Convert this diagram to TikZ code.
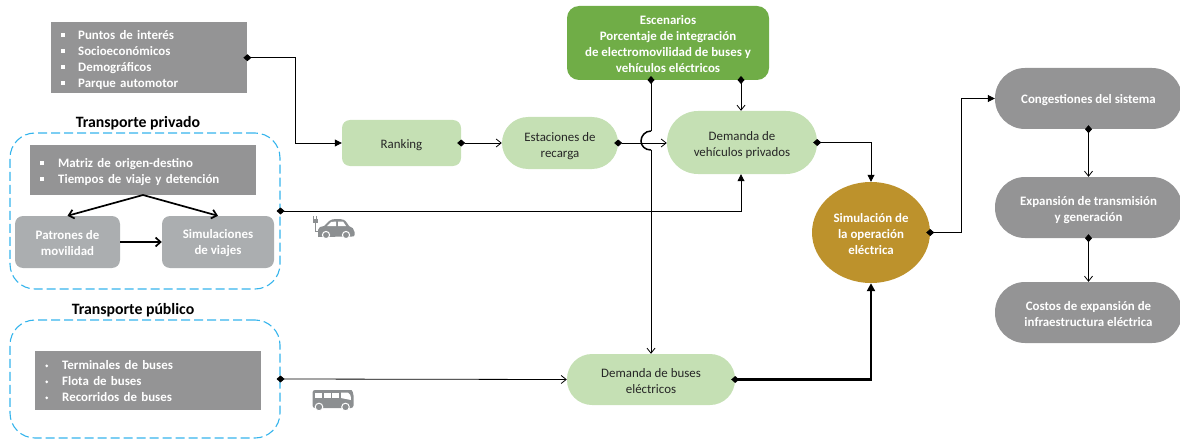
\documentclass[tikz,border=0pt]{standalone}
\usepackage{fontspec}
\setmainfont{Carlito}
\usetikzlibrary{arrows.meta,shapes.geometric}
\definecolor{boxgray}{HTML}{949495}
\definecolor{softgray}{HTML}{ABAEB0}
\definecolor{lightgreen}{HTML}{C5E0B4}
\definecolor{midgreen}{HTML}{70AD47}
\definecolor{ochre}{HTML}{BD922C}
\definecolor{dashblue}{HTML}{35B4EC}
\definecolor{inktext}{HTML}{262626}
\definecolor{iconfill}{HTML}{8C8F91}
\newcommand\bodyfont{\fontsize{12.9}{16}\selectfont}
\newcommand\squarebul[2]{\makebox[#1][l]{\hspace{#2}\raisebox{2.5pt}{\rule{3.8pt}{3.8pt}}}}
\newcommand\roundbul[2]{\makebox[#1][l]{\hspace{#2}\raisebox{2.8pt}{\tikz[baseline]\fill (0,1pt) circle (1.5pt);}}}
\newcommand\headroom[1]{\rule{0pt}{#1}}
\tikzset{
  x=1pt,y=-1pt,
  txt/.style={font=\bodyfont,align=center},
  graybox/.style={fill=boxgray,text=white,font=\bodyfont\bfseries,align=left,inner sep=0pt,anchor=north west},
  softbox/.style={fill=softgray,text=white,txt,font=\bodyfont\bfseries,rounded corners=8pt,inner sep=0pt},
  greenpill/.style={fill=lightgreen,text=inktext,txt,inner sep=0pt},
  graypill/.style={fill=boxgray,text=white,txt,font=\bodyfont\bfseries,inner sep=0pt,rounded corners=30pt,minimum width=187pt},
  dashframe/.style={draw=dashblue,line width=1.1pt,dash pattern=on 9pt off 4pt,rounded corners=25pt,minimum width=270pt,inner sep=0pt},
  headline/.style={font=\fontsize{15.8}{18}\selectfont\bfseries,text=black,inner sep=0pt},
  conn/.style={draw=black,line width=0.8pt},
  dfill/.style={{Diamond[length=8pt,width=7pt]}-{Triangle[length=7pt,width=7pt]},shorten <=-4pt,conn},
  dopen/.style={{Diamond[length=8pt,width=7pt]}-{Straight Barb[length=5pt,width=8pt]},shorten <=-4pt,conn},
  sharrow/.style={-{Straight Barb[length=5pt,width=9pt]},draw=black,line width=1.7pt},
  icon/.style={fill=iconfill,draw=none},
}
\begin{document}
\begin{tikzpicture}
\useasboundingbox (0,0) rectangle (1180,441);

% source boxes
\node[graybox,minimum height=71pt,text width=196pt] (top) at (51,22)
 {\headroom{13pt}\squarebul{27pt}{10pt}Puntos de interés\\\squarebul{27pt}{10pt}Socioeconómicos\\\squarebul{27pt}{10pt}Demográficos\\\squarebul{27pt}{10pt}Parque automotor};

\node[headline] (tpriv) at (138,123) {Transporte privado};
\node[dashframe,minimum height=156pt] (priv) at (145,211) {};
\node[graybox,minimum height=50pt,text width=226pt] (matriz) at (30,145)
 {\headroom{13pt}\squarebul{28pt}{10pt}Matriz de origen-destino\\\squarebul{28pt}{10pt}Tiempos de viaje y detención};
\node[softbox,minimum width=105pt,minimum height=52pt] (patrones) at (67.5,242) {\headroom{11pt}Patrones de\\movilidad};
\node[softbox,minimum width=112pt,minimum height=52pt] (simviajes) at (218,242) {\headroom{11pt}Simulaciones\\de viajes};
\coordinate (matrizfoot) at (143,195);

\node[headline] (tpub) at (133,310) {Transporte público};
\node[dashframe,minimum height=118pt] (pub) at (145,379) {};
\node[graybox,minimum height=59pt,text width=226pt] (term) at (35,351)
 {\headroom{10pt}\roundbul{27pt}{10pt}Terminales de buses\\\roundbul{27pt}{10pt}Flota de buses\\\roundbul{27pt}{10pt}Recorridos de buses};

% middle
\node[greenpill,rounded corners=8pt,minimum width=119pt,minimum height=46pt] (rank) at (401.5,143) {\headroom{13pt}Ranking};
\node[greenpill,rounded corners=26pt,minimum width=116pt,minimum height=52pt] (est) at (560,143) {\headroom{15pt}Estaciones de\\recarga};
\node[greenpill,rounded corners=31pt,minimum width=150pt,minimum height=63pt] (dveh) at (742,142.5) {\headroom{15pt}Demanda de\\vehículos privados};
\node[fill=midgreen,text=white,txt,font=\bodyfont\bfseries,rounded corners=12pt,inner sep=0pt,minimum width=202pt,minimum height=74pt] (esc) at (668,43)
 {\headroom{11pt}Escenarios\\Porcentaje de integración\\de electromovilidad de buses y\\vehículos eléctricos};
\node[greenpill,rounded corners=25pt,minimum width=168pt,minimum height=51pt] (dbus) at (651,379.5) {\headroom{13pt}Demanda de buses\\eléctricos};
\node[ellipse,fill=ochre,text=white,txt,font=\bodyfont\bfseries,inner sep=0pt,minimum width=118pt,minimum height=101pt] (sim) at (871,232.5) {\headroom{12pt}Simulación de\\la operación\\eléctrica};

% right column
\node[graypill,minimum height=61pt] (cong) at (1088.5,98.5) {\headroom{13pt}Congestiones del sistema};
\node[graypill,minimum height=61pt] (expn) at (1088.5,207.5) {\headroom{15pt}Expansión de transmisión\\y generación};
\node[graypill,minimum height=61pt] (cost) at (1088.5,312.5) {\headroom{13pt}Costos de expansión de\\infraestructura eléctrica};

% connectors
\draw[dfill] (top.east) -| (295,143) -- (rank.west);
\draw[dopen] (rank.east) -- (est.west);
\draw[dopen] (est.east) -- (dveh.west |- est.east);
\coordinate (escA) at (651,80);
\coordinate (escB) at (741,80);
\draw[conn,{Diamond[length=8pt,width=7pt]}-,shorten <=-4pt] (escA) -- (651,131);
\draw[draw=black,line width=1.5pt] (651,131)
  .. controls (645,131) and (641,136) .. (641,141)
  .. controls (641,146) and (645,150) .. (651,150);
\draw[conn,-{Straight Barb[length=5pt,width=8pt]}] (651,150) -- (dbus.north -| escA);
\draw[dopen] (escB) -- (dveh.north -| escB);
\draw[dfill] (dveh.east) -| (sim.north);
\draw[dfill] (priv.east) -| (dveh.south -| escB);
\draw[dopen] (pub.east) -- (dbus.west);
\draw[{Diamond[length=8pt,width=7pt]}-{Triangle[length=8pt,width=8pt]},shorten <=-4pt,draw=black,line width=2.2pt] (dbus.east) -| (sim.south);
\draw[dfill] (sim.east) -| (961,98.5) -- (cong.west);
\draw[dopen] (cong.south) -- (expn.north);
\draw[dopen] (expn.south) -- (cost.north);
\draw[sharrow] (matrizfoot) -- (patrones.north);
\draw[sharrow] (matrizfoot) -- (simviajes.north);
\draw[sharrow] (patrones.east) -- (simviajes.west);

% car icon
\fill[icon] (318,237) -- (318,230) .. controls (318,227) and (321,226.5) .. (324,226)
  -- (329,221) .. controls (331,219.5) and (333,219) .. (336,219) -- (340,219)
  .. controls (343,219) and (345,220) .. (347,223) -- (349,226)
  .. controls (352,227) and (354.5,229) .. (354.5,232) -- (354.5,235) .. controls (354.5,236.5) and (353,236.5) .. (352,236.5) -- cycle;
\fill[white] (327,226) -- (331,222) -- (336,221.5) -- (336,226) -- cycle;
\fill[white] (338,221.5) -- (343,221.5) -- (346,226) -- (338,226) -- cycle;
\fill[icon,draw=white,line width=1pt] (326,235) circle (3.6pt);
\fill[icon,draw=white,line width=1pt] (346,235) circle (3.6pt);
\draw[iconfill,line width=1pt] (318,231) -- (315,231) -- (315,222);
\fill[iconfill] (312.5,219) rectangle (317.5,222.5);
\draw[iconfill,line width=0.8pt] (313.5,216) -- (313.5,219) (316.5,216) -- (316.5,219);

% bus icon
\fill[icon,rounded corners=2.5pt] (312.5,408) -- (312.5,390) -- (349,390) .. controls (352,390) and (353.5,393) .. (353.5,398) -- (353.5,408) -- cycle;
\foreach \xa in {315,323.5,332}{\fill[white] (\xa,392.5) rectangle (\xa+7,398);}
\fill[white] (341,392.5) -- (348,392.5) .. controls (350,393) and (351,396) .. (351,400) -- (341,398) -- cycle;
\fill[icon,draw=white,line width=1pt] (319,407) circle (3.8pt);
\fill[icon,draw=white,line width=1pt] (345.5,407) circle (3.8pt);
\end{tikzpicture}
\end{document}
